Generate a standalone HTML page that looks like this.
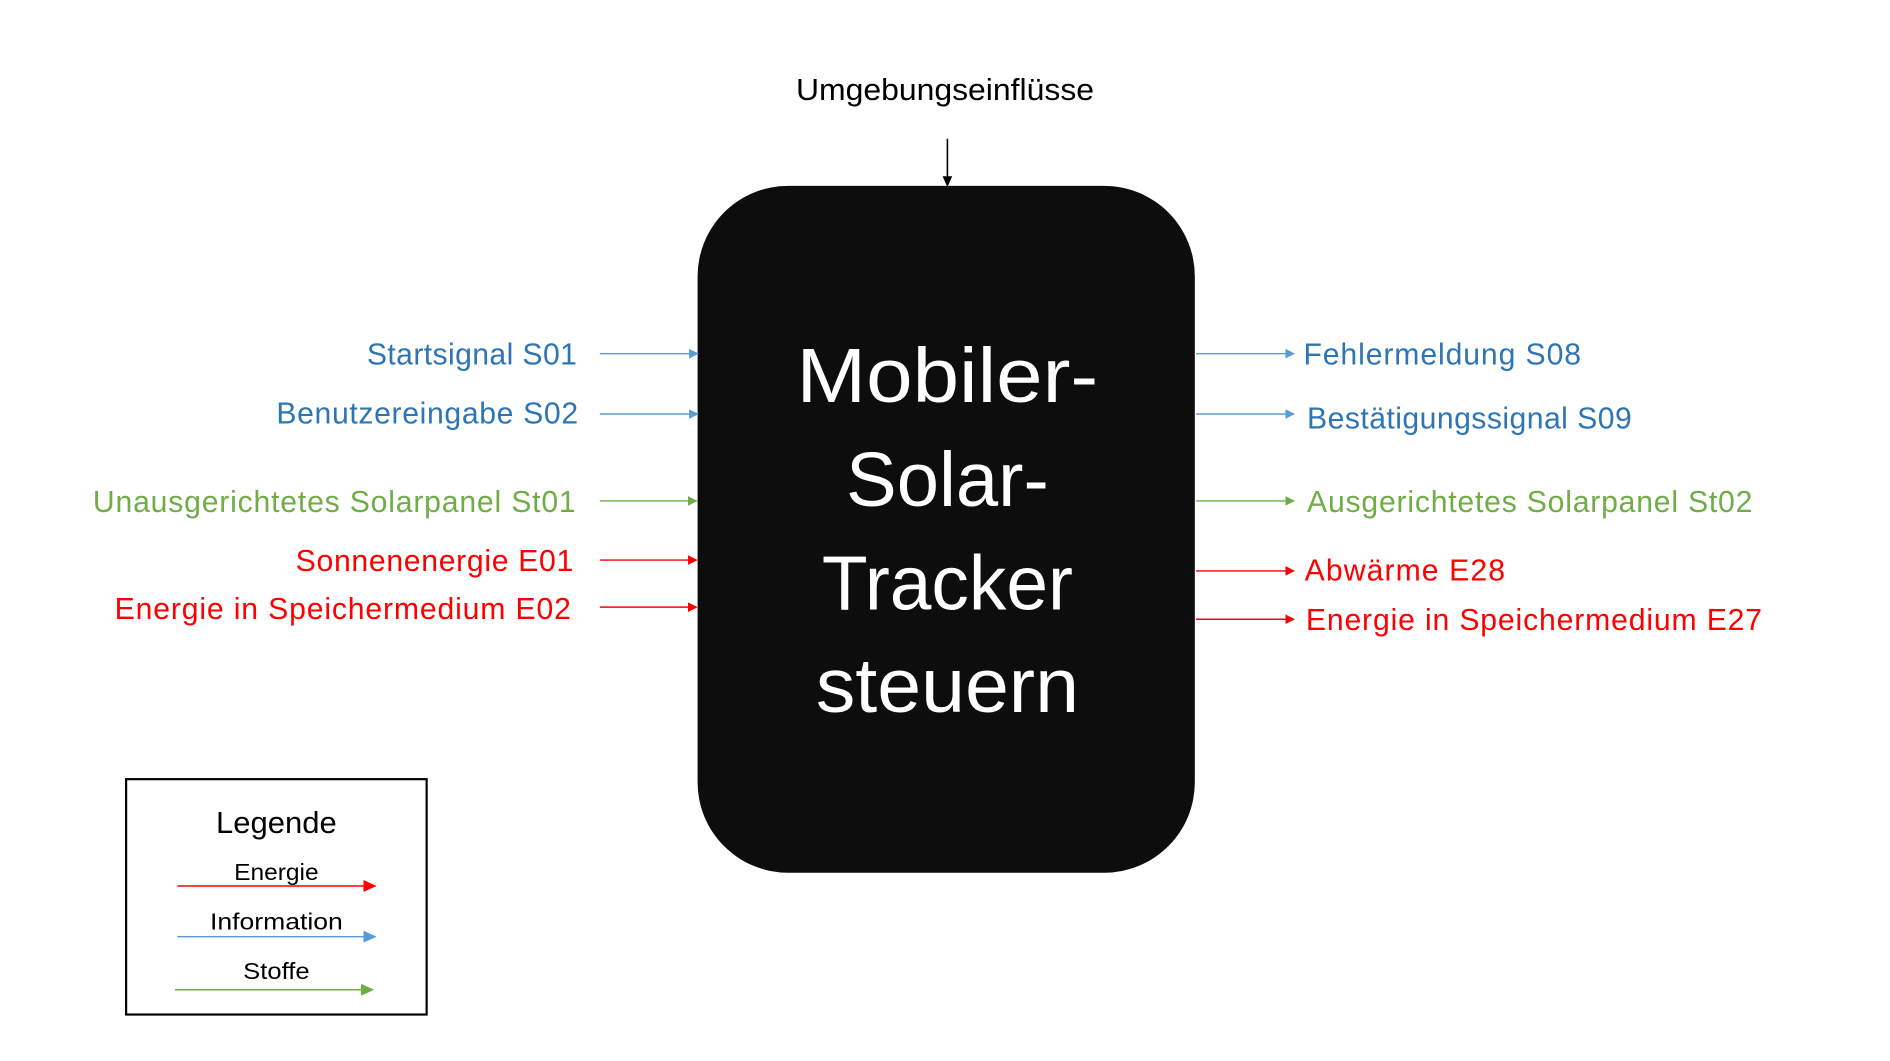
<!DOCTYPE html>
<html><head><meta charset="utf-8"><style>html,body{margin:0;padding:0;background:#fff;overflow:hidden}svg{display:block}</style></head>
<body>
<svg width="1890" height="1061" viewBox="0 0 1566 879" preserveAspectRatio="none" xmlns="http://www.w3.org/2000/svg" font-family="Liberation Sans, DejaVu Sans, sans-serif">
<defs>
<marker id="ab" markerWidth="8" markerHeight="8" refX="7" refY="4" orient="auto" markerUnits="userSpaceOnUse"><path d="M0,0 L8,4 L0,8 z" fill="#5B9BD5"/></marker>
<marker id="ag" markerWidth="8" markerHeight="8" refX="7" refY="4" orient="auto" markerUnits="userSpaceOnUse"><path d="M0,0 L8,4 L0,8 z" fill="#70AD47"/></marker>
<marker id="ar" markerWidth="8" markerHeight="8" refX="7" refY="4" orient="auto" markerUnits="userSpaceOnUse"><path d="M0,0 L8,4 L0,8 z" fill="#FF0000"/></marker>
<marker id="lr" markerWidth="11" markerHeight="10" refX="10" refY="5" orient="auto" markerUnits="userSpaceOnUse"><path d="M0,0 L11,5 L0,10 z" fill="#FF0000"/></marker>
<marker id="lb" markerWidth="11" markerHeight="10" refX="10" refY="5" orient="auto" markerUnits="userSpaceOnUse"><path d="M0,0 L11,5 L0,10 z" fill="#5B9BD5"/></marker>
<marker id="lg" markerWidth="11" markerHeight="10" refX="10" refY="5" orient="auto" markerUnits="userSpaceOnUse"><path d="M0,0 L11,5 L0,10 z" fill="#70AD47"/></marker>
</defs>

<text x="783" y="83" font-size="25" text-anchor="middle" textLength="247" lengthAdjust="spacingAndGlyphs" fill="#000">Umgebungseinflüsse</text>
<line x1="785" y1="115" x2="785" y2="148" stroke="#000" stroke-width="1.3"/>
<path d="M781,146 L789,146 L785,155 z" fill="#000"/>

<rect x="578" y="154" width="412" height="569" rx="75" ry="75" fill="#0d0d0d"/>
<g fill="#fff" font-size="64" text-anchor="middle">
<text x="785" y="333" textLength="250" lengthAdjust="spacingAndGlyphs">Mobiler-</text>
<text x="785" y="419" textLength="168" lengthAdjust="spacingAndGlyphs">Solar-</text>
<text x="785" y="505" textLength="208" lengthAdjust="spacingAndGlyphs">Tracker</text>
<text x="785" y="590" textLength="218" lengthAdjust="spacingAndGlyphs">steuern</text>
</g>

<g font-size="25" lengthAdjust="spacingAndGlyphs">
<text x="304" y="302" textLength="174" fill="#2E75B6">Startsignal S01</text>
<text x="229" y="351" textLength="250" fill="#2E75B6">Benutzereingabe S02</text>
<text x="77" y="424" textLength="400" fill="#70AD47">Unausgerichtetes Solarpanel St01</text>
<text x="245" y="473" textLength="230" fill="#FF0000">Sonnenenergie E01</text>
<text x="95" y="513" textLength="378" fill="#FF0000">Energie in Speichermedium E02</text>

<text x="1080" y="302" textLength="230" fill="#2E75B6">Fehlermeldung S08</text>
<text x="1083" y="355" textLength="269" fill="#2E75B6">Bestätigungssignal S09</text>
<text x="1083" y="424" textLength="369" fill="#70AD47">Ausgerichtetes Solarpanel St02</text>
<text x="1081" y="481" textLength="166" fill="#FF0000">Abwärme E28</text>
<text x="1082" y="522" textLength="378" fill="#FF0000">Energie in Speichermedium E27</text>
</g>

<g stroke-width="1.2">
<line x1="497" y1="293" x2="578" y2="293" stroke="#5B9BD5" marker-end="url(#ab)"/>
<line x1="497" y1="343" x2="578" y2="343" stroke="#5B9BD5" marker-end="url(#ab)"/>
<line x1="497" y1="415" x2="577" y2="415" stroke="#70AD47" marker-end="url(#ag)"/>
<line x1="497" y1="464" x2="577" y2="464" stroke="#FF0000" marker-end="url(#ar)"/>
<line x1="497" y1="503" x2="577" y2="503" stroke="#FF0000" marker-end="url(#ar)"/>

<line x1="991" y1="293" x2="1072" y2="293" stroke="#5B9BD5" marker-end="url(#ab)"/>
<line x1="991" y1="343" x2="1072" y2="343" stroke="#5B9BD5" marker-end="url(#ab)"/>
<line x1="991" y1="415" x2="1072" y2="415" stroke="#70AD47" marker-end="url(#ag)"/>
<line x1="991" y1="473" x2="1072" y2="473" stroke="#FF0000" marker-end="url(#ar)"/>
<line x1="991" y1="513" x2="1072" y2="513" stroke="#FF0000" marker-end="url(#ar)"/>
</g>

<rect x="104.5" y="645.5" width="249" height="195" fill="none" stroke="#000" stroke-width="1.8"/>
<text x="229" y="690" font-size="25" text-anchor="middle" textLength="100" lengthAdjust="spacingAndGlyphs">Legende</text>
<text x="229" y="729" font-size="19" text-anchor="middle" textLength="70" lengthAdjust="spacingAndGlyphs">Energie</text>
<text x="229" y="770" font-size="19" text-anchor="middle" textLength="110" lengthAdjust="spacingAndGlyphs">Information</text>
<text x="229" y="811" font-size="19" text-anchor="middle" textLength="55" lengthAdjust="spacingAndGlyphs">Stoffe</text>
<line x1="147" y1="734" x2="311" y2="734" stroke="#FF0000" stroke-width="1.2" marker-end="url(#lr)"/>
<line x1="147" y1="776" x2="311" y2="776" stroke="#5B9BD5" stroke-width="1.2" marker-end="url(#lb)"/>
<line x1="145" y1="820" x2="309" y2="820" stroke="#70AD47" stroke-width="1.2" marker-end="url(#lg)"/>
</svg>
</body></html>
